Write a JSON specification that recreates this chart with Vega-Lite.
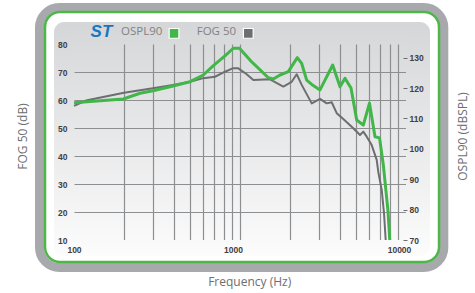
{
  "$schema": "https://vega.github.io/schema/vega-lite/v6.json",
  "autosize": "none",
  "padding": {"left": 74, "top": 44, "right": 69, "bottom": 53},
  "width": 332,
  "height": 196,
  "background": "white",
  "view": {
    "stroke": null,
    "fill": {"gradient": "linear", "x1": 0, "y1": 0, "x2": 0, "y2": 1,
      "stops": [{"offset": 0, "color": "#d9dadb"}, {"offset": 1, "color": "#f9f9fa"}]}
  },
  "datasets": {
    "ospl": [{"f":100,"v":115.2},{"f":198,"v":116.4},{"f":250,"v":118.3},{"f":299,"v":119.1},{"f":395,"v":120.7},{"f":500,"v":122.1},{"f":601,"v":124.3},{"f":691,"v":127.4},{"f":812,"v":130.6},{"f":911,"v":133.1},{"f":993,"v":133.1},{"f":1149,"v":129.2},{"f":1203,"v":128.1},{"f":1481,"v":123.4},{"f":1587,"v":123.0},{"f":1742,"v":124.3},{"f":1954,"v":125.4},{"f":2214,"v":130.0},{"f":2353,"v":128.1},{"f":2522,"v":122.6},{"f":2704,"v":121.2},{"f":3034,"v":119.4},{"f":3617,"v":127.6},{"f":4004,"v":120.4},{"f":4291,"v":123.2},{"f":4664,"v":120.0},{"f":5047,"v":109.5},{"f":5530,"v":107.8},{"f":6026,"v":115.0},{"f":6506,"v":104.0},{"f":6926,"v":103.6},{"f":7301,"v":94.7},{"f":7790,"v":79.5},{"f":7980,"v":70.0}],
    "fog": [{"f":100,"v":57.9},{"f":118,"v":59.8},{"f":200,"v":62.6},{"f":299,"v":64.2},{"f":395,"v":65.4},{"f":500,"v":66.5},{"f":601,"v":67.8},{"f":707,"v":68.3},{"f":812,"v":70.1},{"f":903,"v":71.3},{"f":977,"v":71.3},{"f":1097,"v":69.2},{"f":1203,"v":67.1},{"f":1516,"v":67.4},{"f":1824,"v":64.8},{"f":2048,"v":66.5},{"f":2196,"v":69.2},{"f":2353,"v":65.4},{"f":2704,"v":58.8},{"f":3034,"v":60.4},{"f":3329,"v":58.8},{"f":3568,"v":59.2},{"f":3824,"v":55.3},{"f":4190,"v":53.2},{"f":4814,"v":49.9},{"f":5284,"v":47.5},{"f":5530,"v":48.7},{"f":5799,"v":46.9},{"f":6214,"v":43.9},{"f":6660,"v":38.6},{"f":6810,"v":34.3},{"f":7140,"v":27.9},{"f":7370,"v":19.6},{"f":7545,"v":10.0}]
  },
  "resolve": {"scale": {"y": "independent"}, "axis": {"x": "independent", "y": "independent"}},
  "layer": [
    {
      "resolve": {"axis": {"x": "independent", "y": "independent"}},
      "layer": [
        {
          "data": {"values": [{}]},
          "mark": {"type": "rect", "filled": false, "stroke": "#a7a9ac", "strokeWidth": 9, "cornerRadius": 20},
          "encoding": {
            "x": {"datum": 61.97, "type": "quantitative", "scale": {"type": "log", "domain": [100, 10000], "nice": false}, "axis": null},
            "x2": {"datum": 16895},
            "y": {"datum": 93.04, "type": "quantitative", "scale": {"domain": [10, 80], "nice": false, "zero": false}, "axis": null},
            "y2": {"datum": 0.18}
          }
        },
        {
          "data": {"values": [{}]},
          "mark": {"type": "rect", "filled": false, "stroke": "#4db848", "strokeWidth": 2.5, "cornerRadius": 15},
          "encoding": {
            "x": {"datum": 66.9, "type": "quantitative", "scale": {"type": "log", "domain": [100, 10000], "nice": false}, "axis": null},
            "x2": {"datum": 15810},
            "y": {"datum": 91.43, "type": "quantitative", "scale": {"domain": [10, 80], "nice": false, "zero": false}, "axis": null},
            "y2": {"datum": 2.14}
          }
        },
        {
          "data": {"values": [{}]},
          "mark": {"type": "rect", "cornerRadiusTopLeft": 10, "cornerRadiusBottomLeft": 10,
            "fill": {"gradient": "linear", "x1": 0, "y1": 0, "x2": 0, "y2": 1, "stops": [{"offset": 0, "color": "#d5d6d8"}, {"offset": 1, "color": "#fcfcfc"}]}},
          "encoding": {
            "x": {"datum": 75.8, "type": "quantitative", "scale": {"type": "log", "domain": [100, 10000], "nice": false}, "axis": null},
            "x2": {"datum": 100},
            "y": {"datum": 87.86, "type": "quantitative", "scale": {"domain": [10, 80], "nice": false, "zero": false}, "axis": null},
            "y2": {"datum": 4.29}
          }
        },
        {
          "data": {"values": [{}]},
          "mark": {"type": "rect", "cornerRadiusTopRight": 10, "cornerRadiusBottomRight": 10,
            "fill": {"gradient": "linear", "x1": 0, "y1": 0, "x2": 0, "y2": 1, "stops": [{"offset": 0, "color": "#d5d6d8"}, {"offset": 1, "color": "#fcfcfc"}]}},
          "encoding": {
            "x": {"datum": 10000, "type": "quantitative", "scale": {"type": "log", "domain": [100, 10000], "nice": false}, "axis": null},
            "x2": {"datum": 13950},
            "y": {"datum": 87.86, "type": "quantitative", "scale": {"domain": [10, 80], "nice": false, "zero": false}, "axis": null},
            "y2": {"datum": 4.29}
          }
        },
        {
          "data": {"values": [{}]},
          "mark": {"type": "rect",
            "fill": {"gradient": "linear", "x1": 0, "y1": 0, "x2": 0, "y2": 1, "stops": [{"offset": 0, "color": "#d5d6d8"}, {"offset": 1, "color": "#d9dadb"}]}},
          "encoding": {
            "x": {"datum": 100, "type": "quantitative", "scale": {"type": "log", "domain": [100, 10000], "nice": false}, "axis": null},
            "x2": {"datum": 10000},
            "y": {"datum": 87.86, "type": "quantitative", "scale": {"domain": [10, 80], "nice": false, "zero": false}, "axis": null},
            "y2": {"datum": 80}
          }
        },
        {
          "data": {"values": [{}]},
          "mark": {"type": "rect",
            "fill": {"gradient": "linear", "x1": 0, "y1": 0, "x2": 0, "y2": 1, "stops": [{"offset": 0, "color": "#f9f9fa"}, {"offset": 1, "color": "#fcfcfc"}]}},
          "encoding": {
            "x": {"datum": 100, "type": "quantitative", "scale": {"type": "log", "domain": [100, 10000], "nice": false}, "axis": null},
            "x2": {"datum": 10000},
            "y": {"datum": 10, "type": "quantitative", "scale": {"domain": [10, 80], "nice": false, "zero": false}, "axis": null},
            "y2": {"datum": 4.29}
          }
        },
        {
          "data": {"name": "fog"},
          "mark": {"type": "line", "color": "#6d6e71", "strokeWidth": 2, "strokeJoin": "round"},
          "encoding": {
            "x": {"field": "f", "type": "quantitative", "scale": {"type": "log", "domain": [100, 10000], "nice": false},
              "axis": {
                "orient": "bottom",
                "values": [200,300,400,500,600,700,800,900,1000,2000,3000,4000,5000,6000,7000,8000,9000],
                "labels": false, "ticks": false, "domain": false,
                "grid": true, "gridColor": "#8d8e90", "gridWidth": 1.2, "gridOpacity": 1,
                "title": null
              }},
            "y": {"field": "v", "type": "quantitative", "scale": {"domain": [10, 80], "nice": false, "zero": false},
              "axis": {
                "orient": "left",
                "values": [20,30,40,50,60,70],
                "labels": false, "ticks": false, "domain": false,
                "grid": true, "gridColor": "#8d8e90", "gridWidth": 1.2, "gridOpacity": 1,
                "title": null
              }}
          }
        },
        {
          "data": {"values": [{}]},
          "mark": {"type": "text", "text": "ST", "font": "Liberation Sans", "fontWeight": "bold", "fontStyle": "italic", "fontSize": 17, "color": "#1c75bc", "align": "center", "baseline": "middle"},
          "encoding": {
            "x": {"datum": 146.4, "type": "quantitative", "scale": {"type": "log", "domain": [100, 10000], "nice": false},
              "axis": {
                "orient": "bottom", "values": [100], "format": "d",
                "labelFlush": false, "labelOverlap": false,
                "ticks": false, "domain": false, "grid": false,
                "labelFont": "Liberation Sans", "labelFontWeight": "bold", "labelFontSize": 8.5, "labelColor": "#414042", "labelPadding": 5,
                "title": null, "zindex": 1
              }},
            "y": {"datum": 84.3, "type": "quantitative", "scale": {"domain": [10, 80], "nice": false, "zero": false},
              "axis": {
                "orient": "left",
                "values": [10,20,30,40,50,60,70,80],
                "ticks": false, "domain": false, "grid": false,
                "labelFont": "Liberation Sans", "labelFontWeight": "bold", "labelFontSize": 8.5, "labelColor": "#414042", "labelPadding": 7,
                "labelFlush": false, "labelOverlap": false,
                "title": "FOG 50 (dB)", "titleFont": "Open Sans", "titleFontSize": 12, "titleFontWeight": "normal", "titleColor": "#6d6e71",
                "titlePadding": 28, "titleY": 92, "zindex": 1
              }}
          }
        },
        {
          "data": {"values": [{}]},
          "mark": {"type": "text", "text": "OSPL90", "font": "Open Sans", "fontSize": 11.5, "color": "#808285", "align": "left", "baseline": "middle"},
          "encoding": {
            "x": {"datum": 191.9, "type": "quantitative", "scale": {"type": "log", "domain": [100, 10000], "nice": false}, "axis": null},
            "y": {"datum": 84.3, "type": "quantitative", "scale": {"domain": [10, 80], "nice": false, "zero": false}, "axis": null}
          }
        },
        {
          "data": {"values": [{}]},
          "mark": {"type": "point", "shape": "square", "size": 95, "filled": true, "opacity": 1, "color": "#41b649", "stroke": "white", "strokeWidth": 1.2},
          "encoding": {
            "x": {"datum": 400.5, "type": "quantitative", "scale": {"type": "log", "domain": [100, 10000], "nice": false}, "axis": null},
            "y": {"datum": 83.8, "type": "quantitative", "scale": {"domain": [10, 80], "nice": false, "zero": false}, "axis": null}
          }
        },
        {
          "data": {"values": [{}]},
          "mark": {"type": "text", "text": "FOG 50", "font": "Open Sans", "fontSize": 11.5, "color": "#808285", "align": "left", "baseline": "middle"},
          "encoding": {
            "x": {"datum": 548.6, "type": "quantitative", "scale": {"type": "log", "domain": [100, 10000], "nice": false}, "axis": null},
            "y": {"datum": 84.3, "type": "quantitative", "scale": {"domain": [10, 80], "nice": false, "zero": false}, "axis": null}
          }
        },
        {
          "data": {"values": [{}]},
          "mark": {"type": "point", "shape": "square", "size": 95, "filled": true, "opacity": 1, "color": "#6d6e71", "stroke": "white", "strokeWidth": 1.2},
          "encoding": {
            "x": {"datum": 1122, "type": "quantitative", "scale": {"type": "log", "domain": [100, 10000], "nice": false}, "axis": null},
            "y": {"datum": 83.8, "type": "quantitative", "scale": {"domain": [10, 80], "nice": false, "zero": false}, "axis": null}
          }
        },
        {
          "data": {"values": [{}]},
          "mark": {"type": "text", "text": "Frequency (Hz)", "font": "Open Sans", "fontSize": 12, "color": "#6d6e71", "align": "center", "baseline": "middle"},
          "encoding": {
            "x": {"datum": 1144, "type": "quantitative", "scale": {"type": "log", "domain": [100, 10000], "nice": false}, "axis": null},
            "y": {"datum": -5, "type": "quantitative", "scale": {"domain": [10, 80], "nice": false, "zero": false}, "axis": null}
          }
        }
      ]
    },
    {
      "data": {"name": "ospl"},
      "mark": {"type": "line", "color": "#41b649", "strokeWidth": 3, "strokeJoin": "round"},
      "encoding": {
        "x": {"field": "f", "type": "quantitative", "scale": {"type": "log", "domain": [100, 10000], "nice": false},
          "axis": {
            "orient": "bottom", "values": [1000, 10000], "format": "d",
            "labelFlush": false, "labelOverlap": false, "labelOffset": -7,
            "ticks": false, "domain": false, "grid": false,
            "labelFont": "Liberation Sans", "labelFontWeight": "bold", "labelFontSize": 8.5, "labelColor": "#414042", "labelPadding": 5,
            "title": null, "zindex": 1
          }},
        "y": {"field": "v", "type": "quantitative", "scale": {"domain": [70, 134.5], "nice": false, "zero": false},
          "axis": {
            "orient": "right",
            "values": [70,80,90,100,110,120,130],
            "offset": -3,
            "ticks": true, "tickSize": 4, "tickColor": "#6d6e71", "tickWidth": 1,
            "domain": false, "grid": false,
            "labelFont": "Liberation Sans", "labelFontWeight": "bold", "labelFontSize": 8.5, "labelColor": "#414042", "labelPadding": 2,
            "labelFlush": false, "labelOverlap": false,
            "title": "OSPL90 (dBSPL)", "titleFont": "Open Sans", "titleFontSize": 12, "titleFontWeight": "normal", "titleColor": "#6d6e71",
            "titleAngle": 270, "titleBaseline": "top", "titlePadding": 34, "titleY": 92, "zindex": 1
          }}
      }
    }
  ]
}
